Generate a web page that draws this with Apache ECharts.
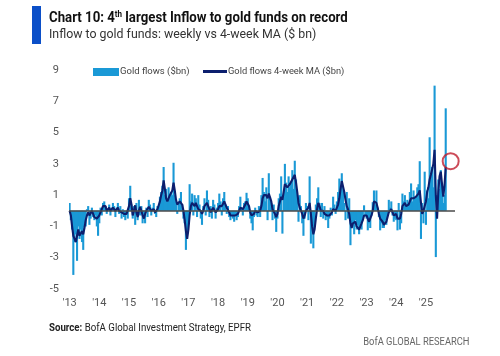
<!DOCTYPE html>
<html><head><meta charset="utf-8">
<script src="https://cdn.jsdelivr.net/npm/echarts@6/dist/echarts.min.js"></script>
<style>html,body{margin:0;padding:0;background:#fff}#c{width:500px;height:356px}</style>
</head><body><div id="c"></div>
<script>
// Year tick labels (one per 24 half-month slots)
const tickLabels = ["'13","'14","'15","'16","'17","'18","'19","'20","'21","'22","'23","'24","'25"];
const slotsPerYear = 24;
const totalSlots = 312; // axis runs to end of 2025

// Gold fund flows ($bn), approx. half-monthly readings, per year
const flows2013 = [0.5,-0.6,-1.2,-4.1,-2.0,-1.5,-3.2,-1.0,-1.8,-1.2,-2.0,-2.5,-0.8,-1.0,0.1,0.3,-0.9,-0.5,0.2,-0.4,-0.6,-0.3,-1.0,-1.6];
const flows2014 = [-0.8,0.2,-0.3,0.5,0.6,0.3,-0.2,0.1,0.4,-0.3,0.2,0.5,0.3,-0.4,0.2,0.5,-0.2,0.3,-0.5,0.1,-0.4,-0.6,-0.2,-0.5];
const flows2015 = [0.8,1.6,0.4,-0.5,0.3,-0.9,0.5,-0.6,0.7,-0.3,0.3,-0.8,-0.5,-0.8,0.2,-0.4,0.7,0.4,-0.3,0.2,0.5,-0.2,-0.4,0.3];
const flows2016 = [0.3,0.9,1.2,1.6,2.8,1.0,1.4,0.6,1.5,0.8,1.2,1.0,3.07,1.0,0.6,-0.2,0.5,0.8,1.2,0.4,-0.5,-0.8,-2.5,-1.5];
const flows2017 = [-0.9,1.7,0.6,1.1,-0.3,1.0,0.8,-0.4,1.0,0.4,-0.5,-0.9,0.3,0.8,-0.3,1.3,0.7,-0.4,0.3,-0.5,0.7,0.4,-0.5,0.2];
const flows2018 = [0.5,1.1,0.6,-0.3,0.8,1.2,0.4,-0.2,0.3,-0.4,-0.6,-0.3,-0.5,-0.7,-0.2,-0.6,-0.4,0.3,0.9,0.2,-0.3,0.5,0.6,1.15];
const flows2019 = [0.8,0.3,-0.5,-0.8,-1.25,-0.4,0.2,-0.3,-0.4,0.3,-0.4,1.0,2.1,1.2,0.6,1.5,-0.6,2.4,0.9,0.5,-0.6,0.4,-0.5,-1.35];
const flows2020 = [-0.5,0.8,1.1,2.2,-1.46,1.0,3.0,1.8,1.2,2.2,1.5,1.8,2.6,1.4,3.2,2.0,1.0,-0.7,1.0,0.3,-0.8,-1.6,-0.5,0.5];
const flows2021 = [0.3,-0.6,2.2,-2.1,-0.8,-2.4,-1.0,0.4,0.8,1.5,0.5,-0.4,0.5,-0.5,0.3,-0.6,-0.4,-1.1,-0.5,0.2,-0.3,0.9,0.4,-0.2];
const flows2022 = [0.6,1.2,2.06,1.5,2.4,1.3,0.5,-0.6,1.2,-0.5,0.8,-2.2,-1.0,-0.8,-1.5,-0.6,-1.2,-0.9,-1.5,-0.8,-1.2,-0.5,0.35,-0.3];
const flows2023 = [-0.5,-1.25,-0.8,-1.1,-0.3,0.55,1.3,0.4,1.3,0.2,-0.4,-1.25,-0.8,-1.1,-1.1,-0.6,-0.9,-0.3,0.7,0.2,0.6,-0.3,-0.7,-0.5];
const flows2024 = [-0.6,-1.25,0.5,-1.2,-0.8,1.1,0.6,1.0,0.3,0.7,0.4,1.2,1.75,0.6,1.3,0.8,0.9,1.5,1.7,3.17,-1.8,0.5,-0.8,2.5];
const flows2025 = [-0.9,1.3,0.8,4.7,2.2,2.8,1.5,8.0,-2.96,1.0,2.0,1.4,2.6,1.8,0.5,1.0,6.55];

// 4-week moving average ($bn), per year
const ma2013 = [0.0,-0.3,-1.0,-1.6,-1.8,-2.0,-1.9,-1.2,-1.6,-1.7,-1.3,-1.5,-1.1,-0.6,-0.3,-0.1,-0.3,-0.2,0.0,-0.2,-0.4,-0.3,-0.5,-0.6];
const ma2014 = [-0.3,-0.1,0.1,0.3,0.4,0.3,0.0,0.1,0.2,0.0,0.1,0.2,0.2,0.0,0.1,0.2,0.0,0.1,-0.1,0.0,-0.2,-0.3,-0.2,-0.2];
const ma2015 = [0.3,0.8,0.4,-0.3,0.0,0.35,-0.1,-0.4,0.0,0.25,0.0,-0.3,-0.5,-0.2,0.0,0.1,0.25,0.2,0.0,0.1,0.1,-0.1,0.0,0.1];
const ma2016 = [0.2,0.6,1.0,1.3,1.95,1.4,0.8,0.6,0.8,1.0,1.1,1.3,1.8,1.3,0.7,0.4,0.5,0.6,0.6,0.4,0.0,-0.6,-1.3,-1.8];
const ma2017 = [-1.2,-0.3,0.3,0.5,0.4,0.3,0.5,0.3,0.1,0.2,0.0,-0.2,0.0,0.3,0.4,0.5,0.3,0.1,-0.1,0.0,0.2,0.1,-0.1,0.0];
const ma2018 = [0.1,0.3,0.4,0.3,0.4,0.6,0.4,0.2,0.1,-0.1,-0.3,-0.3,-0.3,-0.4,-0.3,-0.3,-0.2,0.0,0.2,0.2,0.1,0.2,0.4,0.6];
const ma2019 = [0.5,0.3,-0.1,-0.3,-0.4,-0.2,0.0,-0.1,-0.1,-0.1,0.0,0.3,0.8,1.0,0.9,1.0,0.8,1.1,1.0,0.6,0.1,0.0,-0.2,-0.4];
const ma2020 = [-0.2,0.3,0.6,0.9,0.7,1.2,1.7,1.6,1.5,1.5,1.7,1.8,2.0,2.1,2.3,1.8,1.2,0.5,0.2,0.1,-0.2,-0.5,-0.3,0.0];
const ma2021 = [0.1,0.2,0.5,-0.2,-1.0,-1.5,-1.2,-0.5,0.1,0.5,0.3,0.0,0.1,0.0,-0.2,-0.3,-0.3,-0.4,-0.3,-0.2,-0.1,0.1,0.1,0.0];
const ma2022 = [0.1,0.4,0.8,1.4,1.9,2.0,1.2,0.7,0.3,0.1,-0.2,-0.8,-1.1,-0.8,-0.9,-0.7,-1.0,-1.0,-1.2,-1.0,-0.9,-0.6,-0.3,-0.2];
const ma2023 = [-0.3,-0.5,-0.7,-0.6,-0.3,0.0,0.6,0.6,0.5,0.2,-0.2,-0.5,-0.6,-0.7,-0.9,-0.8,-0.7,-0.6,-0.1,0.0,0.1,-0.1,-0.3,-0.2];
const ma2024 = [-0.2,-0.5,-0.4,-0.5,-0.2,0.3,0.4,0.5,0.3,0.3,0.4,0.6,0.8,0.8,0.8,0.8,0.9,0.9,1.1,1.3,0.5,-0.2,0.0,0.3];
const ma2025 = [0.6,1.2,1.5,2.0,2.3,2.4,3.0,3.9,1.0,-0.5,1.2,2.2,2.5,2.6,0.9,1.6,2.8];

// Highlighted latest reading (red circle): [slot index, value]
const highlight = [[308, 3.17]];

const flows = [].concat(flows2013,flows2014,flows2015,flows2016,flows2017,flows2018,flows2019,flows2020,flows2021,flows2022,flows2023,flows2024,flows2025);
const ma = [].concat(ma2013,ma2014,ma2015,ma2016,ma2017,ma2018,ma2019,ma2020,ma2021,ma2022,ma2023,ma2024,ma2025);
const categories = [];
for (let i = 0; i < totalSlots; i++) categories.push(String(2013 + Math.floor(i / slotsPerYear)) + '-' + (i % slotsPerYear));

const FONT = "Roboto, 'Liberation Sans', sans-serif";
const chart = echarts.init(document.getElementById('c'), null, {renderer: 'canvas'});
chart.setOption({
  animation: false,
  backgroundColor: '#ffffff',
  textStyle: {fontFamily: FONT},
  legend: [
    {left: 93, top: 67, padding: 0, itemWidth: 26, itemHeight: 8, itemGap: 0,
     data: [{name: 'Gold flows ($bn)', icon: 'rect'}],
     textStyle: {fontFamily: FONT, fontSize: 9.5, color: '#444', padding: [0,0,0,-4]}},
    {left: 203, top: 67, padding: 0, itemWidth: 24, itemHeight: 3, itemGap: 0,
     data: [{name: 'Gold flows 4-week MA ($bn)', icon: 'rect'}],
     textStyle: {fontFamily: FONT, fontSize: 9.3, color: '#444', padding: [0,0,0,-4]}}
  ],
  grid: {left: 69, right: 45, top: 70, bottom: 67, containLabel: false},
  xAxis: {
    type: 'category', data: categories, boundaryGap: true,
    axisLine: {show: false}, axisTick: {show: false},
    axisLabel: {
      interval: function (idx) { return idx % slotsPerYear === 0; },
      formatter: function (val, idx) { return tickLabels[Math.round(idx / slotsPerYear)] || ''; },
      fontFamily: FONT, fontSize: 11, color: '#555', margin: 9
    }
  },
  yAxis: {
    type: 'value', min: -5, max: 9, interval: 2,
    splitLine: {show: false}, axisLine: {show: false}, axisTick: {show: false},
    axisLabel: {fontFamily: FONT, fontSize: 11, color: '#555', margin: 10}
  },
  series: [
    {
      name: 'Gold flows ($bn)', type: 'bar', data: flows, barWidth: 2.1,
      itemStyle: {color: '#1a99d6'}, z: 2,
      markLine: {
        silent: true, symbol: ['none', 'none'], label: {show: false},
        lineStyle: {color: '#4a4a4a', width: 1.5, type: 'solid'},
        data: [{yAxis: 0}]
      }
    },
    {
      name: 'Gold flows 4-week MA ($bn)', type: 'line', data: ma, symbol: 'none',
      lineStyle: {color: '#0c1f6e', width: 2.1}, itemStyle: {color: '#0c1f6e'}, z: 3
    },
    {
      name: 'highlight', type: 'scatter', data: highlight, symbol: 'circle', symbolSize: 16,
      itemStyle: {color: 'rgba(0,0,0,0)', borderColor: '#bf1e2e', borderWidth: 2}, z: 5, silent: true
    }
  ],
  graphic: [
    {type: 'rect', x: 32, y: 6, shape: {width: 9, height: 38}, style: {fill: '#0b4fc8'}},
    {type: 'text', x: 49, y: 10.5, scaleX: 0.945, style: {
      text: '{a|Chart 10: 4}{s|th}{a| largest Inflow to gold funds on record}',
      verticalAlign: 'top',
      rich: {
        a: {fontFamily: FONT, fontSize: 14, fontWeight: 'bold', fill: '#111111', lineHeight: 16},
        s: {fontFamily: FONT, fontSize: 8.5, fontWeight: 'bold', fill: '#111111', verticalAlign: 'top', lineHeight: 10}
      }
    }},
    {type: 'text', x: 49, y: 28.5, scaleX: 0.95, style: {
      text: 'Inflow to gold funds: weekly vs 4-week MA ($ bn)', verticalAlign: 'top',
      font: '13px ' + FONT, fill: '#333333'
    }},
    {type: 'text', x: 49, y: 322.5, scaleX: 0.88, style: {
      text: '{b|Source:} BofA Global Investment Strategy, EPFR', verticalAlign: 'top',
      font: '11px ' + FONT, fill: '#222',
      rich: {b: {fontWeight: 'bold', fontSize: 11, fontFamily: FONT, fill: '#222'}}
    }},
    {type: 'text', x: 469.5, y: 337, scaleX: 0.85, style: {
      text: 'BofA GLOBAL RESEARCH', align: 'right', verticalAlign: 'top',
      font: '11px ' + FONT, fill: '#666'
    }}
  ]
});
</script></body></html>
